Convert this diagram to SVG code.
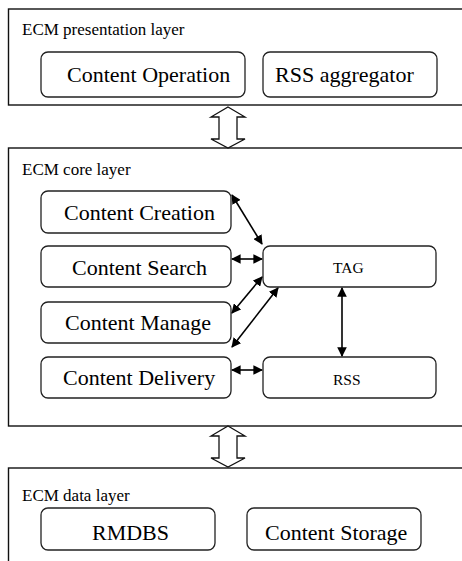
<svg xmlns="http://www.w3.org/2000/svg" width="462" height="561" viewBox="0 0 462 561">
<style>
.layer{fill:#fff;stroke:#111;stroke-width:1.4}
.box{fill:#fff;stroke:#222;stroke-width:1.3}
.lbl{font-family:"Liberation Serif","Times New Roman",serif;font-size:17px;fill:#000}
.txt{font-family:"Liberation Serif","Times New Roman",serif;font-size:22px;fill:#000}
.sm{font-family:"Liberation Serif","Times New Roman",serif;font-size:15.5px;fill:#000}
.con{stroke:#000;stroke-width:1.6;fill:none;marker-start:url(#ah);marker-end:url(#ah)}
.blk{fill:#fff;stroke:#111;stroke-width:1.3}
</style>
<defs>
<marker id="ah" viewBox="0 0 10 10" refX="9" refY="5" markerWidth="6" markerHeight="6" orient="auto-start-reverse">
<path d="M0,0 L10,5 L0,10 Z" fill="#000"/>
</marker>
</defs>
<rect width="462" height="561" fill="#fff"/>

<g id="presentation-layer">
<rect class="layer" x="8.5" y="9" width="470" height="96"/>
<text class="lbl" x="22" y="35">ECM presentation layer</text>
</g>
<g id="content-operation">
<rect class="box" x="41" y="52" width="204" height="45" rx="7"/>
<text class="txt" x="67" y="82">Content Operation</text>
</g>
<g id="rss-aggregator">
<rect class="box" x="263" y="52" width="174" height="45" rx="7"/>
<text class="txt" x="275" y="82">RSS aggregator</text>
</g>

<g id="core-layer">
<rect class="layer" x="8.5" y="148" width="470" height="278"/>
<text class="lbl" x="22" y="175">ECM core layer</text>
</g>
<g id="content-creation">
<rect class="box" x="41" y="191" width="190" height="42" rx="7"/>
<text class="txt" x="64" y="220">Content Creation</text>
</g>
<g id="content-search">
<rect class="box" x="41" y="246" width="190" height="41" rx="7"/>
<text class="txt" x="72" y="275">Content Search</text>
</g>
<g id="content-manage">
<rect class="box" x="41" y="302" width="190" height="41" rx="7"/>
<text class="txt" x="65" y="330">Content Manage</text>
</g>
<g id="content-delivery">
<rect class="box" x="41" y="357" width="190" height="41" rx="7"/>
<text class="txt" x="63" y="385">Content Delivery</text>
</g>
<g id="tag">
<rect class="box" x="263" y="246" width="173" height="41" rx="7"/>
<text class="sm" x="333" y="273">TAG</text>
</g>
<g id="rss">
<rect class="box" x="263" y="357" width="173" height="41" rx="7"/>
<text class="sm" x="333" y="385">RSS</text>
</g>

<g id="data-layer">
<rect class="layer" x="8.5" y="468" width="470" height="110"/>
<text class="lbl" x="22" y="501">ECM data layer</text>
</g>
<g id="rmdbs">
<rect class="box" x="41" y="508" width="174" height="42" rx="7"/>
<text class="txt" x="92" y="540">RMDBS</text>
</g>
<g id="content-storage">
<rect class="box" x="247" y="508" width="174" height="42" rx="7"/>
<text class="txt" x="265" y="540">Content Storage</text>
</g>

<g id="connectors">
<path class="blk" d="M228,107 L245,117 L237,117 L237,139 L245,139 L228,148 L211,139 L219,139 L219,117 L211,117 Z"/>
<path class="blk" d="M228,426 L245,436 L237,436 L237,458 L245,458 L228,467 L211,458 L219,458 L219,436 L211,436 Z"/>
<line class="con" x1="232" y1="195" x2="262" y2="244"/>
<line class="con" x1="232" y1="259" x2="262" y2="259"/>
<line class="con" x1="232" y1="313" x2="262" y2="277"/>
<line class="con" x1="232" y1="347" x2="278" y2="288"/>
<line class="con" x1="232" y1="370" x2="262" y2="370"/>
<line class="con" x1="342" y1="288" x2="342" y2="356"/>
</g>
</svg>
